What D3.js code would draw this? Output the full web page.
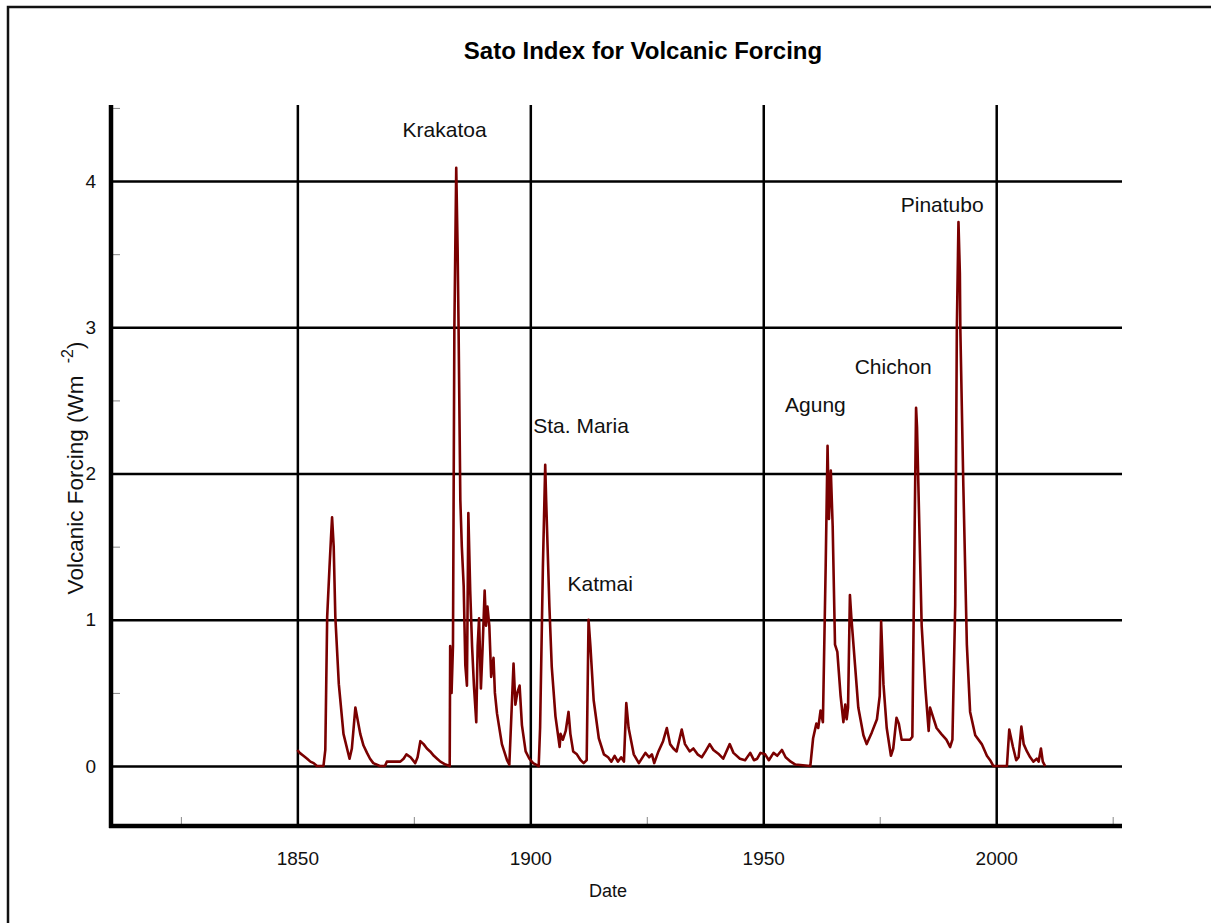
<!DOCTYPE html>
<html>
<head>
<meta charset="utf-8">
<script src="https://cdn.jsdelivr.net/npm/d3@7"></script>
<style>
	body { margin: 0; background: #fff; }
	svg { display: block; font-family: "Liberation Sans", Arial, sans-serif; }
</style>
</head>
<body>
<svg id="chart" width="1211" height="923"></svg>
<script>
/* Data */
var years = [
	1850.0, 1850.5, 1851.3, 1852.1, 1852.8, 1853.5, 1854.2, 1855.6, 1856.0, 1856.4,
	1856.9, 1857.2, 1857.45, 1857.8, 1858.15, 1858.9, 1859.9, 1861.2, 1861.7, 1862.45,
	1863.5, 1864.2, 1864.95, 1865.6, 1866.3, 1867.7, 1868.8, 1869.2, 1870.5, 1872.1,
	1872.8, 1873.4, 1874.3, 1875.3, 1875.8, 1876.4, 1877.1, 1877.8, 1878.5, 1879.3,
	1880.0, 1880.7, 1881.8, 1882.7, 1882.8, 1883.1, 1883.4, 1883.7, 1884.1, 1884.4,
	1884.6, 1884.98, 1885.3, 1885.7, 1886.05, 1886.4, 1886.7, 1887.1, 1887.5, 1887.9,
	1888.4, 1888.7, 1889.0, 1889.4, 1889.75, 1890.2, 1890.5, 1890.8, 1891.2, 1891.6,
	1892.1, 1892.4, 1892.85, 1893.9, 1895.0, 1895.5, 1896.1, 1896.4, 1896.8, 1897.2,
	1897.7, 1898.2, 1899.0, 1899.8, 1900.6, 1901.8, 1902.1, 1902.7, 1903.2, 1903.4,
	1904.1, 1904.6, 1905.4, 1906.0, 1906.3, 1906.5, 1907.0, 1907.6, 1908.2, 1908.6,
	1909.2, 1910.0, 1910.8, 1911.45, 1912.1, 1912.5, 1912.9, 1913.6, 1914.7, 1915.8,
	1916.7, 1917.4, 1918.1, 1918.8, 1919.5, 1920.1, 1920.6, 1921.1, 1922.2, 1923.3,
	1924.7, 1925.5, 1926.1, 1926.6, 1927.5, 1928.5, 1929.3, 1930.0, 1930.7, 1931.4,
	1932.5, 1933.2, 1934.2, 1935.0, 1935.9, 1936.8, 1937.6, 1938.5, 1939.3, 1940.5,
	1941.4, 1942.8, 1943.6, 1945.0, 1946.1, 1947.2, 1948.0, 1948.7, 1949.4, 1950.4,
	1951.2, 1952.2, 1953.0, 1954.0, 1954.8, 1955.9, 1956.9, 1960.1, 1960.7, 1961.4,
	1961.8, 1962.3, 1962.8, 1963.4, 1963.8, 1964.1, 1964.5, 1964.9, 1965.4, 1965.9,
	1966.6, 1967.2, 1967.6, 1967.9, 1968.2, 1968.6, 1968.9, 1969.7, 1970.4, 1971.5,
	1972.2, 1973.3, 1974.4, 1975.0, 1975.3, 1975.8, 1976.5, 1977.4, 1977.9, 1978.6,
	1979.1, 1979.7, 1980.5, 1981.5, 1982.0, 1982.5, 1982.8, 1983.0, 1983.5, 1984.0,
	1984.8, 1985.5, 1985.8, 1986.4, 1987.2, 1988.2, 1989.3, 1989.8, 1990.1, 1990.6,
	1991.2, 1991.55, 1991.9, 1992.2, 1992.3, 1992.95, 1993.7, 1994.4, 1995.5, 1996.9,
	1998.0, 1998.7, 1999.4, 2002.3, 2002.8, 2003.6, 2004.3, 2004.8, 2005.4, 2005.9,
	2006.6, 2007.3, 2008.0, 2008.7, 2009.1, 2009.6, 2010.0, 2010.5
];
var forcing = [
	0.11, 0.09, 0.07, 0.05, 0.03, 0.02, 0.00, 0.00, 0.11, 1.02,
	1.36, 1.55, 1.70, 1.50, 1.02, 0.56, 0.22, 0.05, 0.12, 0.40,
	0.22, 0.14, 0.09, 0.05, 0.02, 0.00, 0.00, 0.03, 0.03, 0.03,
	0.05, 0.08, 0.06, 0.02, 0.06, 0.17, 0.15, 0.12, 0.10, 0.07,
	0.05, 0.03, 0.01, 0.00, 0.82, 0.50, 0.82, 2.99, 4.09, 3.53,
	3.00, 1.82, 1.50, 1.23, 0.69, 0.55, 1.73, 1.20, 0.82, 0.55,
	0.30, 0.82, 1.01, 0.53, 0.80, 1.20, 0.96, 1.09, 0.96, 0.61,
	0.74, 0.50, 0.36, 0.15, 0.04, 0.01, 0.47, 0.70, 0.42, 0.50,
	0.55, 0.28, 0.10, 0.05, 0.02, 0.00, 0.26, 1.36, 2.06, 1.82,
	1.09, 0.68, 0.34, 0.20, 0.13, 0.22, 0.18, 0.24, 0.37, 0.22,
	0.10, 0.08, 0.04, 0.02, 0.04, 1.00, 0.82, 0.45, 0.19, 0.08,
	0.06, 0.03, 0.07, 0.03, 0.06, 0.03, 0.43, 0.26, 0.08, 0.02,
	0.09, 0.06, 0.08, 0.02, 0.10, 0.17, 0.26, 0.15, 0.12, 0.10,
	0.25, 0.15, 0.10, 0.12, 0.08, 0.06, 0.10, 0.15, 0.11, 0.08,
	0.05, 0.15, 0.09, 0.05, 0.04, 0.09, 0.04, 0.05, 0.09, 0.08,
	0.04, 0.09, 0.07, 0.11, 0.06, 0.03, 0.01, 0.00, 0.19, 0.29,
	0.26, 0.38, 0.30, 1.37, 2.19, 1.69, 2.02, 1.64, 0.83, 0.78,
	0.48, 0.30, 0.42, 0.32, 0.40, 1.17, 1.02, 0.69, 0.40, 0.21,
	0.15, 0.23, 0.32, 0.48, 0.99, 0.56, 0.26, 0.07, 0.12, 0.33,
	0.29, 0.18, 0.18, 0.18, 0.20, 1.64, 2.45, 2.32, 1.64, 0.96,
	0.53, 0.24, 0.40, 0.34, 0.26, 0.22, 0.18, 0.15, 0.13, 0.18,
	1.10, 2.99, 3.72, 3.37, 2.99, 1.91, 0.83, 0.37, 0.21, 0.15,
	0.07, 0.04, 0.00, 0.00, 0.25, 0.13, 0.04, 0.06, 0.27, 0.15,
	0.10, 0.06, 0.03, 0.05, 0.03, 0.12, 0.03, 0.00
];

var volcanoes = ["Krakatoa", "Sta. Maria", "Katmai", "Agung", "Chichon", "Pinatubo"];
var volcano_year = [1881.6, 1910.9, 1915.0, 1961.2, 1977.9, 1988.4];
var volcano_val = [4.30, 2.28, 1.20, 2.42, 2.68, 3.79];

var x_ticks = [1850, 1900, 1950, 2000];
var x_minor = [1825, 1875, 1925, 1975, 2025];
var y_ticks = [0, 1, 2, 3, 4];
var y_minor = [0.5, 1.5, 2.5, 3.5, 4.5];

/* Frame & scales */
var svg = d3.select("#chart");

svg.append("rect")
	.attr("x", 8).attr("y", 7)
	.attr("width", 1400).attr("height", 1100)
	.attr("fill", "none")
	.attr("stroke", "#111")
	.attr("stroke-width", 2.5);

var p_left = 111, p_right = 1122, p_top = 105, p_bottom = 826;

var x = d3.scaleLinear().domain([1810, 2027]).range([p_left, p_right]);
var y = d3.scaleLinear().domain([-0.41, 4.52]).range([p_bottom, p_top]);

svg.append("text")
	.attr("x", 643).attr("y", 59)
	.attr("text-anchor", "middle")
	.attr("font-size", 24)
	.attr("font-weight", "bold")
	.text("Sato Index for Volcanic Forcing");

/* Grid lines through axes */
var gx = svg.append("g")
	.attr("transform", "translate(0," + p_bottom + ")")
	.call(d3.axisBottom(x).tickValues(x_ticks).tickSize(-(p_bottom - p_top)).tickPadding(26).tickFormat(d3.format("d")));
gx.select(".domain").remove();
gx.selectAll("line").attr("stroke", "#000").attr("stroke-width", 2.5);
gx.selectAll("text").attr("font-size", 19).attr("fill", "#111");

var gy = svg.append("g")
	.attr("transform", "translate(" + p_left + ",0)")
	.call(d3.axisLeft(y).tickValues(y_ticks).tickSize(-(p_right - p_left)).tickPadding(15).tickFormat(d3.format("d")));
gy.select(".domain").remove();
gy.selectAll("line").attr("stroke", "#000").attr("stroke-width", 2.5);
gy.selectAll("text").attr("font-size", 19).attr("fill", "#111");

/* Minor ticks */
var mx = svg.append("g")
	.attr("transform", "translate(0," + p_bottom + ")")
	.call(d3.axisBottom(x).tickValues(x_minor).tickSize(-9).tickFormat(""));
mx.select(".domain").remove();
mx.selectAll("line").attr("stroke", "#888").attr("stroke-width", 1);

var my = svg.append("g")
	.attr("transform", "translate(" + p_left + ",0)")
	.call(d3.axisLeft(y).tickValues(y_minor).tickSize(-9).tickFormat(""));
my.select(".domain").remove();
my.selectAll("line").attr("stroke", "#888").attr("stroke-width", 1);

/* Data line */
var line = d3.line()
	.x(function(d, i){ return x(years[i]); })
	.y(function(d){ return y(d); });

svg.append("path")
	.datum(forcing)
	.attr("d", line)
	.attr("fill", "none")
	.attr("stroke", "#7a0000")
	.attr("stroke-width", 2.6)
	.attr("stroke-linejoin", "round");

/* Main axes */
svg.append("line")
	.attr("x1", p_left).attr("x2", p_left)
	.attr("y1", p_top).attr("y2", p_bottom + 2)
	.attr("stroke", "#000").attr("stroke-width", 4.5);
svg.append("line")
	.attr("x1", p_left - 2).attr("x2", p_right)
	.attr("y1", p_bottom).attr("y2", p_bottom)
	.attr("stroke", "#000").attr("stroke-width", 4.5);

/* Labels */
for (var i = 0; i < volcanoes.length; i++){
	svg.append("text")
		.attr("x", x(volcano_year[i]))
		.attr("y", y(volcano_val[i]))
		.attr("text-anchor", "middle")
		.attr("font-size", 21)
		.attr("fill", "#111")
		.text(volcanoes[i]);
}

svg.append("text")
	.attr("x", 608).attr("y", 897)
	.attr("text-anchor", "middle")
	.attr("font-size", 18)
	.attr("fill", "#111")
	.text("Date");

var ylab = svg.append("text")
	.attr("transform", "translate(83,468) rotate(-90)")
	.attr("text-anchor", "middle")
	.attr("font-size", 22.5)
	.attr("fill", "#111");
ylab.append("tspan").text("Volcanic Forcing (Wm ");
ylab.append("tspan").attr("dx", 6).attr("dy", -10).attr("font-size", 16).text("-2");
ylab.append("tspan").attr("dy", 10).text(")");
</script>
</body>
</html>
